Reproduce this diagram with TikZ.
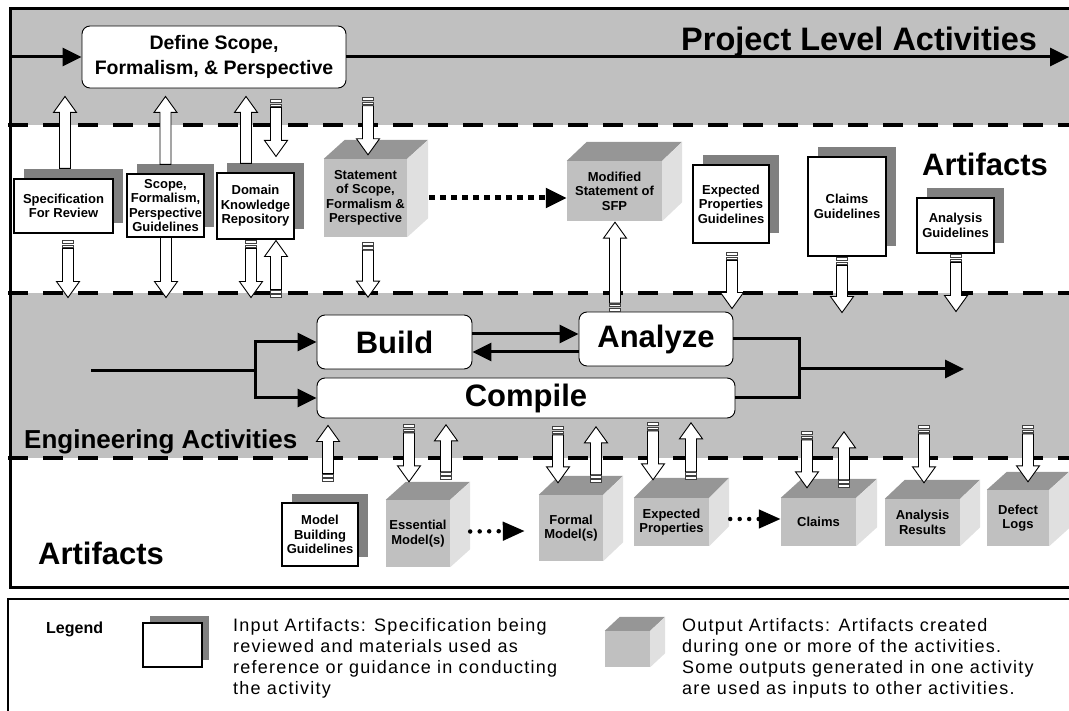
\documentclass[tikz,border=0pt]{standalone}
\usepackage{fontspec}
\setmainfont{Liberation Sans}
\newfontfamily\legendfont[LetterSpace=7]{Liberation Sans}
\usetikzlibrary{positioning,calc,arrows.meta,shadows}

\definecolor{bandgray}{RGB}{192,192,192}
\definecolor{frontgray}{RGB}{192,192,192}
\definecolor{topgray}{RGB}{150,150,150}
\definecolor{sidegray}{RGB}{224,224,224}
\definecolor{shadowgray}{RGB}{128,128,128}

% hollow block arrow: tail point, tip point
\newcommand\blockarrow[2]{%
  \path #1 coordinate (ba tail) #2 coordinate (ba tip);
  \draw[block arrow] let \p1=(ba tail), \p2=(ba tip), \p3=($(ba tip)!16pt!(ba tail)$) in
    (\x1-5.5pt,\y1) -- (\x1-5.5pt,\y3) -- (\x1-11.5pt,\y3) -- (\x2,\y2)
    -- (\x1+11.5pt,\y3) -- (\x1+5.5pt,\y3) -- (\x1+5.5pt,\y1) -- cycle;}
% same, with the striped tail
\newcommand\stripedarrow[2]{%
  \path #1 coordinate (sa tail) #2 coordinate (sa tip);
  \blockarrow{($(sa tail)!8pt!(sa tip)$)}{(sa tip)}%
  \draw[stripe] let \p1=(sa tail), \p2=($(sa tail)!3pt!(sa tip)$),
      \p3=($(sa tail)!4.5pt!(sa tip)$), \p4=($(sa tail)!7pt!(sa tip)$) in
    (\x1-5.5pt,\y1) rectangle (\x1+5.5pt,\y2) (\x1-5.5pt,\y3) rectangle (\x1+5.5pt,\y4);}

\begin{document}
\begin{tikzpicture}[x=1pt,y=-1pt,
    every node/.style={inner sep=0pt},
    activity/.style={draw,fill=white,rounded corners=8pt,line width=0.9pt,font=\fontsize{31}{36}\selectfont\bfseries},
    inbox/.style={draw,fill=white,line width=1.1pt,align=center,font=\fontsize{13}{14.5}\selectfont\bfseries,
      general shadow={fill=shadowgray,shadow xshift=#1,shadow yshift=#1}},
    inbox/.default=9.5pt,
    outbox/.style={fill=frontgray,align=center,font=\fontsize{13}{14.5}\selectfont\bfseries},
    band label/.style={anchor=base west,font=\fontsize{31}{36}\selectfont\bfseries},
    band edge/.style={line width=4.5pt,dash pattern=on 20pt off 15pt},
    flow/.style={line width=3pt,-{Triangle[length=19pt,width=18pt]}},
    dotflow/.style={line width=5pt,dash pattern=on 5.5pt off 5.5pt,-{Triangle[length=21pt,width=19pt]}},
    dotflow small/.style={line width=4.5pt,line cap=round,dash pattern=on 0pt off 9.5pt,-{Triangle[length=22pt,width=18pt]}},
    block arrow/.style={draw=black,line width=0.9pt,fill=white},
    stripe/.style={draw=black!75,line width=0.7pt,fill=white},
    legend text/.style={anchor=north west,align=left,font=\legendfont\fontsize{18}{21}\selectfont},
  ]
\useasboundingbox (0,0) rectangle (1069,711);

% bands and frame
\fill[bandgray] (10,9) rectangle (1069,125);
\fill[bandgray] (10,293) rectangle (1069,458);
\draw[line width=3pt] (1069,9) -- (10,9) -- (10,587) -- (1069,587);
\foreach \y in {125,293,458}
  \draw[band edge] (8,\y) -- (1069,\y);
\draw[line width=1.2pt] (8,711) -- (8,599) -- (1069,599);

% project level
\node (define) [draw,fill=white,rounded corners=8pt,line width=0.9pt,minimum width=264pt,minimum height=62pt,
  align=center,font=\fontsize{19.5}{25}\selectfont\bfseries] at (214,57) {Define Scope,\\Formalism, \& Perspective};
\node (project label) [band label,font=\fontsize{32.5}{36}\selectfont\bfseries] at (681,51) {Project Level Activities};
\coordinate (project in) at (10,57);
\coordinate (project out) at (1069,57);
\draw[flow] (project in) -- (define.west);
\draw[flow] (define.east) -- (project out);

% artifacts (upper)
\node (spec) [inbox,minimum width=99pt,minimum height=54pt] at (63.5,206) {Specification\\For Review};
\node (scope guide) [inbox,minimum width=77pt,minimum height=63pt] at (165.5,205.5) {Scope,\\Formalism,\\Perspective\\Guidelines};
\node (domain) [inbox,minimum width=77pt,minimum height=66pt] at (255.5,206) {Domain\\Knowledge\\Repository};
\node (statement) [outbox,minimum width=83pt,minimum height=78pt] at (365.5,198) {Statement\\of Scope,\\Formalism \&\\Perspective};
\node (modified) [outbox,minimum width=95pt,minimum height=60pt] at (614.5,191) {Modified\\Statement of\\SFP};
\node (expected guide) [inbox,minimum width=76pt,minimum height=78pt] at (731,204) {Expected\\Properties\\Guidelines};
\node (claims guide) [inbox,minimum width=78pt,minimum height=99pt] at (847,206.5) {Claims\\Guidelines};
\node (analysis guide) [inbox,minimum width=77pt,minimum height=55pt] at (955.5,225.5) {Analysis\\Guidelines};
\node (artifacts top) [band label] at (922,176) {Artifacts};

% engineering
\node (build) [activity,minimum width=155pt,minimum height=54pt] at (394.5,342) {Build};
\node (analyze) [activity,minimum width=154pt,minimum height=54pt] at (656,339) {Analyze};
\node (compile) [activity,minimum width=418pt,minimum height=40pt] at (526,398) {Compile};
\node (engineering label) [band label,font=\fontsize{26}{30}\selectfont\bfseries] at (24,448) {Engineering Activities};
\coordinate (eng in) at (91,371);
\coordinate (split) at (255,371);
\coordinate (merge) at (799,369);
\coordinate (eng out) at (964,369);
\draw[line width=3pt] (eng in) -- (split);
\draw[flow] (split) |- (build.west);
\draw[flow] (split) |- (compile.west);
\draw[flow] ([yshift=8pt]build.east) -- ([yshift=5pt]analyze.west);
\draw[flow] ([yshift=-13pt]analyze.west) -- ([yshift=-10pt]build.east);
\draw[line width=3pt] (analyze.east) -| (merge) |- (compile.east);
\draw[flow] (merge) -- (eng out);

% artifacts (lower)
\node (model guide) [inbox,minimum width=76pt,minimum height=63pt] at (320,534.5) {Model\\Building\\Guidelines};
\node (essential) [outbox,minimum width=64pt,minimum height=67pt] at (418,533.5) {Essential\\Model(s)};
\node (formal) [outbox,minimum width=64pt,minimum height=66pt] at (571,528) {Formal\\Model(s)};
\node (expected prop) [outbox,minimum width=75pt,minimum height=48pt] at (671.5,522) {Expected\\Properties};
\node (claims) [outbox,minimum width=75pt,minimum height=48pt] at (818.5,522) {Claims};
\node (results) [outbox,minimum width=75pt,minimum height=47pt] at (922.5,522.5) {Analysis\\Results};
\node (defects) [outbox,minimum width=62pt,minimum height=56pt] at (1018,518) {Defect\\Logs};
\node (artifacts bottom) [band label] at (38,564) {Artifacts};

% legend
\node (legend title) [anchor=base west,font=\fontsize{16}{19}\selectfont\bfseries] at (46,633) {Legend};
\node (legend input) [inbox=7pt,minimum width=59pt,minimum height=44pt] at (172.5,645) {};
\node (legend input text) [legend text] at (233,618) {Input Artifacts: Specification being\\reviewed and materials used as\\reference or guidance in conducting\\the activity};
\node (legend cube) [outbox,minimum width=45pt,minimum height=36pt] at (627.5,649) {};
\node (legend output text) [legend text] at (682,618) {Output Artifacts: Artifacts created\\during one or more of the activities.\\Some outputs generated in one activity\\are used as inputs to other activities.};

% cube faces
\foreach \c/\dx/\dy in {statement/21/19,modified/20/19,essential/20/18,formal/20/19,expected prop/20/20,
    claims/21/19,results/20/19,defects/20/18,legend cube/15/14} {
  \fill[topgray] (\c.north west) -- ([shift={(\dx,-\dy)}]\c.north west)
    -- ([shift={(\dx,-\dy)}]\c.north east) -- (\c.north east) -- cycle;
  \fill[sidegray] (\c.north east) -- ([shift={(\dx,-\dy)}]\c.north east)
    -- ([shift={(\dx,-\dy)}]\c.south east) -- (\c.south east) -- cycle;
}

% derived artifacts
\draw[dotflow] ([xshift=22pt]statement.east) -- (modified.west |- statement.east);
\draw[dotflow small] ([xshift=20pt,yshift=2pt]essential.east) -- ([xshift=-14pt,yshift=-3pt]formal.west);
\draw[dotflow small] ([xshift=21pt,yshift=3pt]expected prop.east) -- ([yshift=3pt]claims.west);

% inputs and outputs between bands
\blockarrow{([xshift=1.5pt,yshift=10pt]spec.north)}{([xshift=1.5pt,yshift=82pt]spec.north)}
\blockarrow{([yshift=9pt]scope guide.north)}{([yshift=77pt]scope guide.north)}
\blockarrow{([xshift=-9.5pt,yshift=9pt]domain.north)}{([xshift=-9.5pt,yshift=76pt]domain.north)}
\stripedarrow{([xshift=20.5pt,yshift=73pt]domain.north)}{([xshift=20.5pt,yshift=16pt]domain.north)}
\stripedarrow{([xshift=2.5pt,yshift=61pt]statement.north)}{([xshift=2.5pt,yshift=4pt]statement.north)}

\stripedarrow{([xshift=4.5pt,yshift=-7pt]spec.south)}{([xshift=4.5pt,yshift=-64pt]spec.south)}
\blockarrow{([xshift=0.5pt]scope guide.south)}{([xshift=0.5pt,yshift=-60pt]scope guide.south)}
\stripedarrow{([xshift=-4.5pt,yshift=-1pt]domain.south)}{([xshift=-4.5pt,yshift=-58pt]domain.south)}
\stripedarrow{([xshift=20.5pt,yshift=-58pt]domain.south)}{([xshift=20.5pt,yshift=-1pt]domain.south)}
\stripedarrow{([xshift=2.5pt,yshift=-5pt]statement.south)}{([xshift=2.5pt,yshift=-60pt]statement.south)}
\stripedarrow{([xshift=0.5pt,yshift=-90pt]modified.south)}{([xshift=0.5pt,yshift=-1pt]modified.south)}
\stripedarrow{([xshift=1pt,yshift=-9pt]expected guide.south)}{([xshift=1pt,yshift=-65pt]expected guide.south)}
\stripedarrow{([xshift=-5pt,yshift=-1pt]claims guide.south)}{([xshift=-5pt,yshift=-56pt]claims guide.south)}
\stripedarrow{([xshift=0.5pt,yshift=-1pt]analysis guide.south)}{([xshift=0.5pt,yshift=-58pt]analysis guide.south)}

\stripedarrow{([xshift=8pt,yshift=21pt]model guide.north)}{([xshift=8pt,yshift=77pt]model guide.north)}
\stripedarrow{([xshift=-9pt,yshift=75pt]essential.north)}{([xshift=-9pt,yshift=18pt]essential.north)}
\stripedarrow{([xshift=28pt,yshift=20pt]essential.north)}{([xshift=28pt,yshift=75pt]essential.north)}
\stripedarrow{([xshift=-13pt,yshift=68pt]formal.north)}{([xshift=-13pt,yshift=12pt]formal.north)}
\stripedarrow{([xshift=25pt,yshift=12pt]formal.north)}{([xshift=25pt,yshift=68pt]formal.north)}
\stripedarrow{([xshift=-18.5pt,yshift=75pt]expected prop.north)}{([xshift=-18.5pt,yshift=18pt]expected prop.north)}
\stripedarrow{([xshift=19.5pt,yshift=18pt]expected prop.north)}{([xshift=19.5pt,yshift=75pt]expected prop.north)}
\stripedarrow{([xshift=-11.5pt,yshift=66pt]claims.north)}{([xshift=-11.5pt,yshift=10pt]claims.north)}
\stripedarrow{([xshift=25.5pt,yshift=10pt]claims.north)}{([xshift=25.5pt,yshift=66pt]claims.north)}
\stripedarrow{([xshift=1.5pt,yshift=73pt]results.north)}{([xshift=1.5pt,yshift=16pt]results.north)}
\stripedarrow{([xshift=10pt,yshift=64pt]defects.north)}{([xshift=10pt,yshift=8pt]defects.north)}
\end{tikzpicture}
\end{document}
